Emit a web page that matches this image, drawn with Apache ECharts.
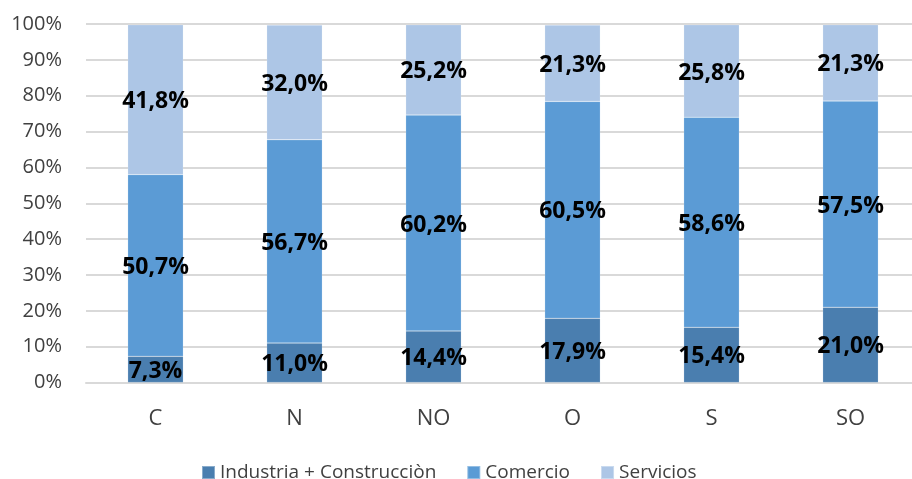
<!DOCTYPE html>
<html>
<head>
<meta charset="utf-8">
<script src="https://cdn.jsdelivr.net/npm/echarts@6/dist/echarts.min.js"></script>
<style>html,body{margin:0;padding:0;background:#fff;overflow:hidden}#c{width:922px;height:479px}</style>
</head>
<body>
<div id="c"></div>
<script>
const categories = ['C', 'N', 'NO', 'O', 'S', 'SO'];
const industria = [7.3, 11.0, 14.4, 17.9, 15.4, 21.0];
const comercio = [50.7, 56.7, 60.2, 60.5, 58.6, 57.5];
const servicios = [41.8, 32.0, 25.2, 21.3, 25.8, 21.3];
const seriesNames = ['Industria + Construcciòn', 'Comercio', 'Servicios'];
const colors = ['#4a7eaf', '#5b9bd5', '#adc6e6'];

const font = 'Open Sans';
const chart = echarts.init(document.getElementById('c'), null, {renderer: 'canvas'});
const fmt = p => p.value.toFixed(1).replace('.', ',') + '%';
function mk(name, data, color) {
  return {
    name, type: 'bar', stack: 'tot', data, barWidth: '40%',
    itemStyle: {color, borderColor: 'rgba(255,255,255,0.35)', borderWidth: 0.5},
    label: {show: true, position: 'inside', formatter: fmt, color: '#000',
      fontFamily: font, fontWeight: 'bold', fontSize: 23, offset: [0, 2]},
    emphasis: {disabled: true}
  };
}
chart.setOption({
  animation: false,
  color: colors,
  grid: {left: 86, top: 24, width: 834, height: 358.5, containLabel: false},
  legend: {
    top: 458, left: 196, itemWidth: 13, itemHeight: 13, itemGap: 30,
    icon: 'rect',
    textStyle: {fontFamily: font, fontSize: 19, color: '#404040'},
    data: seriesNames
  },
  xAxis: {
    type: 'category', data: categories,
    axisLine: {lineStyle: {color: '#d9d9d9', width: 2}},
    axisTick: {show: false},
    axisLabel: {fontFamily: font, fontSize: 22, color: '#404040', margin: 25}
  },
  yAxis: {
    type: 'value', min: 0, max: 100, interval: 10,
    axisLine: {show: false}, axisTick: {show: false},
    splitLine: {lineStyle: {color: '#d9d9d9', width: 2}},
    axisLabel: {fontFamily: font, fontSize: 20, color: '#404040', margin: 24,
      formatter: v => v + '%'}
  },
  series: [
    mk(seriesNames[0], industria, colors[0]),
    mk(seriesNames[1], comercio, colors[1]),
    mk(seriesNames[2], servicios, colors[2])
  ]
});
</script>
</body>
</html>
